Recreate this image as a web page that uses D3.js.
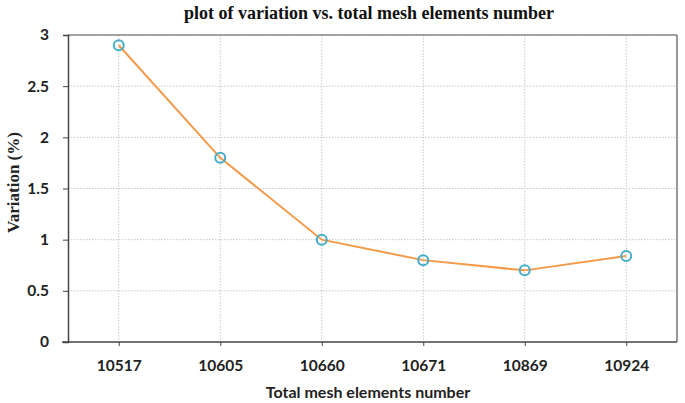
<!DOCTYPE html>
<html>
<head>
<meta charset="utf-8">
<script src="https://cdn.jsdelivr.net/npm/d3@7"></script>
<style>
  body { margin: 0; background: #fff; }
</style>
</head>
<body>
<div id="chart"></div>
<script>
// data
const meshElements = ["10517", "10605", "10660", "10671", "10869", "10924"];
const variation = [2.9, 1.8, 1.0, 0.8, 0.7, 0.84];
const yTicks = [0, 0.5, 1, 1.5, 2, 2.5, 3];

const W = 685, H = 403;
const margin = { top: 35, right: 8, bottom: 61, left: 68 };
const width = W - margin.left - margin.right;
const height = H - margin.top - margin.bottom;

const svg = d3.select("#chart").append("svg")
  .attr("width", W).attr("height", H);

const g = svg.append("g")
  .attr("transform", `translate(${margin.left},${margin.top})`);

const x = d3.scalePoint().domain(meshElements).range([0, width]).padding(0.5);
const y = d3.scaleLinear().domain([0, 3]).range([height, 0]);

// grid
g.selectAll(".hgrid").data(yTicks.slice(1)).enter().append("line")
  .attr("x1", 0).attr("x2", width)
  .attr("y1", d => y(d)).attr("y2", d => y(d))
  .attr("stroke", "#c8c8c8").attr("stroke-dasharray", "1.5,1.5");
g.selectAll(".vgrid").data(meshElements).enter().append("line")
  .attr("x1", d => x(d)).attr("x2", d => x(d))
  .attr("y1", 0).attr("y2", height)
  .attr("stroke", "#c8c8c8").attr("stroke-dasharray", "1.5,1.5");

// frame top / right
g.append("line").attr("x1", 0).attr("x2", width).attr("y1", 0).attr("y2", 0)
  .attr("stroke", "#555").attr("stroke-width", 1.2);
g.append("line").attr("x1", width).attr("x2", width).attr("y1", 0).attr("y2", height)
  .attr("stroke", "#555").attr("stroke-width", 1.2);

// axes
const yAxis = g.append("g")
  .call(d3.axisLeft(y).tickValues(yTicks).tickSize(5).tickPadding(14).tickFormat(d3.format("")));
const xAxis = g.append("g")
  .attr("transform", `translate(0,${height})`)
  .call(d3.axisBottom(x).tickSize(4).tickPadding(14));

[yAxis, xAxis].forEach(a => {
  a.select(".domain").attr("stroke", "#444").attr("stroke-width", 1.5);
  a.selectAll(".tick line").attr("stroke", "#444");
  a.selectAll("text")
    .attr("font-family", "Lato, 'Open Sans', sans-serif")
    .attr("font-weight", "bold").attr("font-size", 15.5).attr("fill", "#222");
});
xAxis.select(".domain").attr("d", `M-6,0H${width}`);

// line
g.append("path").datum(variation)
  .attr("fill", "none").attr("stroke", "#f59a4a").attr("stroke-width", 2)
  .attr("d", d3.line().x((d, i) => x(meshElements[i])).y(d => y(d)));

g.selectAll(".pt").data(variation).enter().append("circle")
  .attr("cx", (d, i) => x(meshElements[i])).attr("cy", d => y(d))
  .attr("r", 5).attr("fill", "none")
  .attr("stroke", "#45adc8").attr("stroke-width", 2);

// titles
svg.append("text")
  .attr("x", 369).attr("y", 19).attr("text-anchor", "middle")
  .attr("font-family", "'Liberation Serif', 'DejaVu Serif', serif")
  .attr("font-weight", "bold").attr("font-size", 18).attr("fill", "#111")
  .text("plot of variation vs. total mesh elements number");

svg.append("text")
  .attr("x", 368).attr("y", 398).attr("text-anchor", "middle")
  .attr("font-family", "Lato, 'Open Sans', sans-serif")
  .attr("font-weight", "bold").attr("font-size", 16).attr("fill", "#222")
  .text("Total mesh elements number");

svg.append("text")
  .attr("transform", `translate(19,${margin.top + height / 2 - 6}) rotate(-90)`)
  .attr("text-anchor", "middle")
  .attr("font-family", "'Liberation Serif', 'DejaVu Serif', serif")
  .attr("font-weight", "bold").attr("font-size", 17).attr("fill", "#222")
  .text("Variation (%)");
</script>
</body>
</html>
